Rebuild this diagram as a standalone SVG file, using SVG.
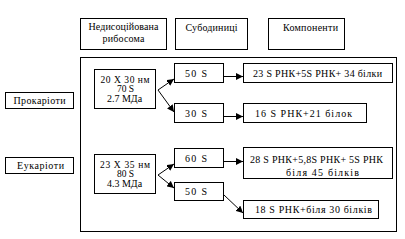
<svg xmlns="http://www.w3.org/2000/svg" width="405" height="239" viewBox="0 0 405 239">
<style>
rect{fill:#fff;stroke:#000;stroke-width:1}
text{font-family:"Liberation Serif","Times New Roman",serif;font-size:10px;fill:#000;text-anchor:middle}
.s{font-size:9.5px}
.c line{stroke:#000;stroke-width:1}
</style>
<defs>
<marker id="ah" viewBox="0 0 10 10" refX="10" refY="5" markerWidth="7" markerHeight="7" markerUnits="userSpaceOnUse" orient="auto">
<path d="M0,0L10,5L0,10z" fill="#000"/>
</marker>
</defs>
<rect x="0" y="0" width="405" height="239" style="stroke:none"/>
<g id="frame"><rect x="80.5" y="57.5" width="316" height="174"/></g>
<g id="h1"><rect x="80.5" y="18.5" width="86" height="31"/><text x="123.5" y="30" textLength="70" lengthAdjust="spacing">Недисоційована</text><text x="123.5" y="42" textLength="42" lengthAdjust="spacing">рибосома</text></g>
<g id="h2"><rect x="175.5" y="18.5" width="72" height="31"/><text x="211.5" y="31" textLength="52" lengthAdjust="spacing">Субодиниці</text></g>
<g id="h3"><rect x="268.5" y="18.5" width="76" height="31"/><text x="310.5" y="31" textLength="55" lengthAdjust="spacing">Компоненти</text></g>
<g id="prok"><rect x="5.5" y="92.5" width="68" height="16"/><text x="39.5" y="104" textLength="52" lengthAdjust="spacing">Прокаріоти</text></g>
<g id="euk"><rect x="5.5" y="157.5" width="68" height="16"/><text x="40.5" y="169" textLength="47" lengthAdjust="spacing">Еукаріоти</text></g>
<g id="p70"><rect x="94.5" y="69.5" width="61" height="39"/><text class="s" x="125" y="83" textLength="49" lengthAdjust="spacing">20 X 30 нм</text><text class="s" x="125.5" y="92">70 S</text><text x="124.5" y="101.5">2.7 МДа</text></g>
<g id="e80"><rect x="94.5" y="154.5" width="61" height="39"/><text class="s" x="125" y="168" textLength="50" lengthAdjust="spacing">23 X 35 нм</text><text class="s" x="125.5" y="177">80 S</text><text x="124.5" y="186.5">4.3 МДа</text></g>
<g id="s50p"><rect x="174.5" y="63.5" width="49" height="19"/><text x="196" y="77" textLength="22" lengthAdjust="spacing">50 S</text></g>
<g id="s30"><rect x="174.5" y="103.5" width="49" height="19"/><text x="196" y="117" textLength="22" lengthAdjust="spacing">30 S</text></g>
<g id="s60"><rect x="174.5" y="148.5" width="49" height="19"/><text x="196" y="162" textLength="22" lengthAdjust="spacing">60 S</text></g>
<g id="s50e"><rect x="174.5" y="182.5" width="49" height="18"/><text x="196" y="195" textLength="22" lengthAdjust="spacing">50 S</text></g>
<g id="c1"><rect x="243.5" y="63.5" width="149" height="19"/><text x="317.5" y="77" textLength="129" lengthAdjust="spacing">23 S РНК+5S РНК+ 34 білки</text></g>
<g id="c2"><rect x="243.5" y="103.5" width="123" height="19"/><text x="303.5" y="117" textLength="97" lengthAdjust="spacing">16 S РНК+21 білок</text></g>
<g id="c3"><rect x="243.5" y="147.5" width="149" height="31"/><text x="316.5" y="163" textLength="133" lengthAdjust="spacing">28 S РНК+5,8S РНК+ 5S РНК</text><text x="322.5" y="176" textLength="73" lengthAdjust="spacing">біля 45 білків</text></g>
<g id="c4"><rect x="243.5" y="200.5" width="135" height="18"/><text x="313.5" y="213" textLength="117" lengthAdjust="spacing">18 S РНК+біля 30 білків</text></g>
<g class="c" id="connectors">
<line x1="158" y1="90" x2="174" y2="79" marker-end="url(#ah)"/>
<line x1="158" y1="90" x2="174" y2="112" marker-end="url(#ah)"/>
<line x1="224" y1="76.5" x2="243" y2="76.5" marker-end="url(#ah)"/>
<line x1="224" y1="116.5" x2="243" y2="116.5" marker-end="url(#ah)"/>
<line x1="158" y1="175" x2="174" y2="164" marker-end="url(#ah)"/>
<line x1="158" y1="175" x2="174" y2="188" marker-end="url(#ah)"/>
<line x1="224" y1="161.5" x2="243" y2="161.5" marker-end="url(#ah)"/>
<line x1="224" y1="195" x2="243" y2="213" marker-end="url(#ah)"/>
</g>
</svg>
